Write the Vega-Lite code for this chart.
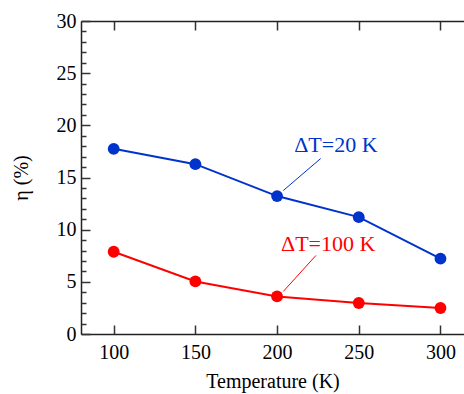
{
  "$schema": "https://vega.github.io/schema/vega-lite/v6.json",
  "width": 383,
  "height": 313,
  "autosize": "none",
  "padding": {"left": 81, "top": 21, "right": 0, "bottom": 60},
  "background": "white",
  "config": {
    "view": {"stroke": null},
    "axis": {
      "labelFont": "Liberation Serif",
      "titleFont": "Liberation Serif",
      "labelFontSize": 20,
      "titleFontSize": 20,
      "labelColor": "#000",
      "titleColor": "#000",
      "titleFontWeight": "normal",
      "domainColor": "#222",
      "domainWidth": 1.5,
      "tickColor": "#333",
      "tickWidth": 1.5,
      "grid": false
    }
  },
  "datasets": {
    "pts": [
      {"T": 100, "eta": 17.75, "series": "20"},
      {"T": 150, "eta": 16.28, "series": "20"},
      {"T": 200, "eta": 13.22, "series": "20"},
      {"T": 250, "eta": 11.2, "series": "20"},
      {"T": 300, "eta": 7.22, "series": "20"},
      {"T": 100, "eta": 7.88, "series": "100"},
      {"T": 150, "eta": 5.04, "series": "100"},
      {"T": 200, "eta": 3.6, "series": "100"},
      {"T": 250, "eta": 2.97, "series": "100"},
      {"T": 300, "eta": 2.49, "series": "100"}
    ],
    "leaders": [
      {"x": 226.7, "y": 16.82, "x2": 203.8, "y2": 13.75, "series": "20"},
      {"x": 223.8, "y": 7.53, "x2": 203.8, "y2": 4.08, "series": "100"}
    ],
    "labels": [
      {"x": 236, "y": 17.43, "label": "ΔT=20 K", "series": "20"},
      {"x": 231.3, "y": 7.98, "label": "ΔT=100 K", "series": "100"}
    ]
  },
  "resolve": {"axis": {"x": "independent", "y": "independent"}},
  "layer": [
    {
      "data": {"name": "pts"},
      "mark": {"type": "line", "strokeWidth": 2},
      "encoding": {
        "x": {
          "field": "T", "type": "quantitative",
          "scale": {"domain": [80, 314.4], "nice": false, "zero": false},
          "axis": {
            "orient": "bottom", "values": [100, 150, 200, 250, 300],
            "tickSize": -9, "labelPadding": 17, "title": "Temperature (K)", "titlePadding": 9
          }
        },
        "y": {
          "field": "eta", "type": "quantitative",
          "scale": {"domain": [0, 30], "nice": false},
          "axis": {
            "orient": "left", "values": [0, 5, 10, 15, 20, 25, 30],
            "tickSize": -9, "labelPadding": 14, "title": "η (%)", "titlePadding": 25
          }
        },
        "color": {
          "field": "series", "type": "nominal", "legend": null,
          "scale": {"domain": ["20", "100"], "range": ["#0033cc", "#ff0000"]}
        },
        "detail": {"field": "series"}
      }
    },
    {
      "data": {"name": "pts"},
      "mark": {"type": "point", "filled": true, "size": 140, "opacity": 1},
      "encoding": {
        "x": {"field": "T", "type": "quantitative", "axis": null},
        "y": {"field": "eta", "type": "quantitative", "axis": null},
        "color": {"field": "series", "type": "nominal", "legend": null}
      }
    },
    {
      "data": {"name": "leaders"},
      "mark": {"type": "rule", "strokeWidth": 1},
      "encoding": {
        "x": {
          "field": "x", "type": "quantitative",
          "axis": {
            "orient": "top", "values": [100, 150, 200, 250, 300],
            "tickSize": -9, "labels": false, "title": null, "domain": true
          }
        },
        "x2": {"field": "x2"},
        "y": {
          "field": "y", "type": "quantitative",
          "axis": {
            "orient": "left",
            "values": [1,2,3,4,6,7,8,9,11,12,13,14,16,17,18,19,21,22,23,24,26,27,28,29],
            "tickSize": -5, "labels": false, "title": null, "domain": false
          }
        },
        "y2": {"field": "y2"},
        "color": {"field": "series", "type": "nominal", "legend": null}
      }
    },
    {
      "data": {"name": "labels"},
      "mark": {"type": "text", "font": "Liberation Serif", "fontSize": 22, "baseline": "alphabetic", "align": "center"},
      "encoding": {
        "x": {"field": "x", "type": "quantitative", "axis": null},
        "y": {"field": "y", "type": "quantitative", "axis": null},
        "text": {"field": "label"},
        "color": {"field": "series", "type": "nominal", "legend": null}
      }
    }
  ]
}
